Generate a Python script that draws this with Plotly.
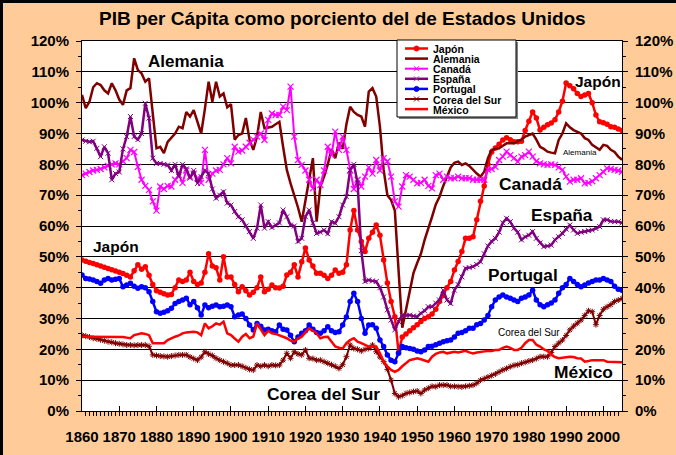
import plotly.graph_objects as go

# ---------------- data ----------------
years = list(range(1860, 2006))

japon = [
    49.0, 48.6, 48.2, 47.8, 47.4, 47.0, 46.6, 46.2, 45.8, 45.4,
    45.0, 44.6, 44.0, 43.5, 45.5, 47.4, 46.0, 46.8, 44.0, 41.0,
    39.0, 38.5, 38.0, 37.6, 37.8, 40.0, 42.5, 42.0, 42.5, 45.0,
    42.0, 41.0, 41.5, 45.0, 51.0, 47.0, 46.5, 42.5, 50.0, 43.5,
    43.5, 41.0, 38.7, 40.3, 39.0, 37.6, 38.5, 40.0, 43.5, 38.7,
    39.5, 40.9, 40.0, 39.9, 40.5, 44.1, 45.0, 47.4, 43.5, 48.4,
    52.9, 49.0, 47.0, 44.7, 44.7, 44.0, 43.0, 44.0, 45.7, 44.7,
    45.0, 47.4, 58.7, 65.0, 58.7, 55.0, 51.7, 56.0, 58.0, 60.3,
    57.0, 49.0, 41.5, 35.5, 30.6, 19.0, 24.0, 25.0, 26.0, 27.0,
    28.0, 29.0, 30.0, 30.6, 31.5, 33.0, 35.5, 37.5, 40.0, 42.0,
    45.7, 48.5, 51.7, 56.0, 56.0, 56.5, 62.0, 68.0, 73.0, 80.0,
    84.0, 85.3, 86.5, 87.9, 88.6, 88.0, 87.3, 87.3, 87.5, 91.0,
    94.0, 97.0, 95.0, 91.1, 92.0, 92.8, 93.4, 94.5, 97.0, 100.5,
    106.4, 105.5, 104.5, 103.0, 102.0, 102.5, 103.0, 100.0, 96.0, 93.8,
    93.5, 93.0, 92.2, 92.0, 91.5, 91.0,
]

alemania = [
    102.5, 98.2, 100.3, 105.0, 106.3, 105.7, 104.0, 103.0, 106.3, 104.0,
    101.0, 99.3, 104.0, 104.7, 114.4, 110.6, 109.5, 106.8, 107.9, 96.0,
    85.2, 85.7, 83.6, 87.3, 88.5, 90.0, 92.2, 91.7, 97.0, 95.5,
    97.6, 94.0, 90.0, 98.0, 106.8, 100.3, 106.8, 102.0, 103.0, 98.5,
    99.5, 88.0, 89.5, 90.0, 95.0, 87.9, 84.7, 89.0, 97.0, 91.7,
    92.0, 92.2, 93.0, 93.8, 85.7, 78.2, 73.8, 70.0, 66.0, 61.4,
    68.4, 75.0, 82.0, 61.4, 72.8, 76.0, 80.0, 85.0, 82.0, 87.0,
    85.0, 93.0, 98.7, 97.0, 96.0, 95.5, 92.2, 103.6, 104.7, 102.0,
    92.2, 78.2, 70.0, 68.4, 65.0, 45.7, 27.0, 32.8, 38.2, 44.7,
    48.0, 51.0, 55.5, 59.0, 63.0, 67.0, 69.5, 73.0, 76.0, 79.0,
    80.5, 80.9, 79.8, 80.3, 79.5, 78.2, 77.0, 76.0, 77.6, 82.0,
    84.7, 85.0, 85.2, 86.0, 86.8, 86.8, 86.8, 87.5, 88.0, 89.0,
    89.5, 90.0, 88.0, 85.7, 85.0, 84.1, 83.8, 83.6, 87.9, 90.0,
    93.3, 92.0, 91.1, 90.5, 90.0, 88.5, 87.9, 86.3, 85.5, 84.7,
    86.3, 86.0, 84.7, 84.0, 82.5, 81.5,
]

canada = [
    76.5, 77.0, 77.5, 78.0, 78.2, 78.5, 79.0, 79.5, 80.0, 80.3,
    80.0, 81.0, 82.0, 84.7, 84.0, 79.2, 75.0, 73.0, 71.7, 68.0,
    65.0, 72.8, 72.0, 73.0, 72.8, 75.0, 76.5, 74.0, 78.0, 76.0,
    77.0, 75.5, 74.0, 84.7, 75.0, 77.0, 78.0, 78.2, 80.0, 82.0,
    80.3, 85.7, 84.1, 84.5, 85.7, 87.0, 88.0, 89.0, 90.0, 87.9,
    94.4, 96.5, 96.0, 96.0, 98.7, 97.6, 105.2, 89.0, 81.4, 79.8,
    78.0, 75.0, 72.2, 75.0, 73.3, 78.0, 85.7, 83.0, 90.6, 84.7,
    89.0, 84.7, 78.0, 72.0, 75.0, 72.8, 76.0, 79.0, 77.0, 81.4,
    78.0, 82.0, 81.0, 76.0, 68.0, 66.3, 72.8, 76.5, 76.0, 75.0,
    73.8, 74.0, 75.0, 73.0, 72.2, 76.5, 77.0, 75.0, 76.0, 75.5,
    75.5, 76.0, 75.5, 75.5, 75.5, 75.0, 75.0, 75.0, 75.0, 78.2,
    78.5, 79.2, 81.4, 82.5, 84.1, 83.0, 82.0, 80.9, 82.5, 83.0,
    84.1, 82.5, 81.0, 80.3, 80.0, 79.8, 80.0, 79.8, 79.0, 78.2,
    76.0, 74.4, 75.0, 75.0, 75.5, 73.8, 74.0, 74.5, 75.5, 76.5,
    77.5, 78.7, 78.5, 78.2, 78.0, 77.6,
]

espana = [
    87.9, 87.5, 87.3, 87.5, 85.2, 82.5, 85.7, 83.6, 75.0, 77.0,
    77.5, 85.0, 89.0, 95.5, 89.0, 88.0, 90.0, 99.8, 95.0, 82.0,
    80.3, 80.3, 80.0, 79.8, 78.0, 80.0, 76.0, 80.0, 78.5, 75.5,
    78.0, 73.8, 76.0, 78.0, 77.0, 72.0, 69.0, 70.0, 71.1, 67.4,
    66.8, 64.7, 63.0, 62.0, 60.0, 58.2, 56.0, 59.3, 66.8, 59.3,
    61.4, 59.5, 60.3, 61.0, 65.2, 63.0, 60.3, 60.0, 55.0, 56.0,
    63.0, 65.2, 61.0, 57.6, 58.0, 58.7, 57.5, 61.4, 60.9, 63.0,
    66.8, 69.5, 78.2, 80.0, 74.0, 52.0, 42.0, 42.5, 42.2, 42.0,
    40.0, 37.0, 32.8, 29.5, 26.3, 29.0, 31.1, 31.0, 31.1, 30.8,
    30.6, 31.7, 32.5, 33.8, 33.8, 35.0, 36.0, 39.2, 36.0, 34.9,
    39.2, 41.0, 43.5, 46.3, 46.5, 46.8, 47.5, 48.4, 51.0, 53.5,
    55.0, 56.0, 58.0, 61.0, 62.5, 61.4, 59.3, 58.0, 55.5, 56.5,
    57.0, 58.2, 56.0, 54.5, 53.3, 53.5, 53.8, 55.5, 56.5, 57.6,
    59.0, 60.3, 58.7, 57.6, 58.0, 58.2, 58.5, 58.7, 59.2, 59.8,
    62.0, 62.0, 61.5, 61.4, 61.4, 61.0,
]

portugal = [
    44.1, 43.0, 42.8, 42.5, 42.0, 41.4, 42.5, 43.0, 42.5, 42.7,
    43.0, 40.3, 40.9, 41.4, 40.5, 39.8, 40.3, 40.0, 38.7, 35.5,
    32.2, 31.7, 32.0, 32.5, 33.3, 34.9, 35.5, 36.0, 36.6, 34.5,
    35.5, 33.5, 31.1, 34.4, 33.5, 34.0, 34.4, 33.8, 34.0, 34.4,
    33.8, 30.6, 31.1, 31.5, 30.0, 27.9, 26.3, 28.4, 27.5, 26.3,
    26.5, 26.0, 25.7, 27.9, 26.5, 26.3, 24.6, 22.5, 24.0, 25.2,
    26.0, 27.9, 26.5, 25.5, 25.2, 26.0, 27.3, 26.0, 25.5, 25.7,
    27.9, 30.5, 35.5, 38.2, 35.5, 30.0, 25.2, 27.9, 28.0, 26.8,
    23.0, 20.9, 18.2, 16.5, 16.0, 18.7, 20.9, 20.5, 20.3, 20.0,
    19.5, 19.2, 19.8, 20.9, 21.0, 21.5, 22.0, 22.5, 22.8, 23.0,
    24.0, 25.2, 25.5, 26.0, 26.8, 26.8, 28.0, 28.4, 29.5, 31.0,
    33.8, 36.0, 37.0, 37.6, 37.0, 36.6, 36.0, 35.5, 36.6, 37.0,
    37.6, 39.2, 36.0, 34.5, 33.8, 34.5, 35.0, 36.0, 38.2, 40.0,
    41.0, 43.0, 42.0, 41.0, 40.3, 40.9, 41.5, 42.0, 42.5, 42.5,
    43.0, 42.5, 42.0, 40.5, 39.5, 39.2,
]

corea = [
    24.6, 24.3, 24.0, 23.6, 23.4, 23.1, 22.8, 22.5, 22.3, 22.0,
    21.8, 21.6, 21.4, 21.4, 21.3, 21.4, 21.4, 21.4, 21.0, 18.2,
    18.0, 17.8, 17.7, 17.6, 17.8, 18.0, 18.2, 18.2, 18.2, 17.5,
    17.0, 16.5, 17.5, 19.2, 18.5, 18.0, 17.1, 16.5, 16.0, 15.5,
    14.9, 14.9, 14.9, 14.5, 14.0, 13.5, 13.3, 14.9, 14.5, 14.9,
    14.5, 14.9, 14.8, 14.9, 16.5, 18.7, 17.1, 19.2, 18.5, 18.2,
    19.8, 17.1, 17.0, 16.5, 16.5, 16.0, 15.5, 15.0, 14.5, 13.8,
    15.0, 17.6, 21.4, 20.3, 20.0, 19.5, 20.0, 20.3, 21.4, 19.2,
    17.5, 16.0, 13.5, 10.0, 5.7, 4.6, 5.0, 5.7, 6.0, 6.3,
    6.5, 5.7, 6.8, 7.4, 8.0, 7.9, 8.4, 8.4, 8.4, 8.0,
    8.0, 7.9, 7.8, 8.0, 8.2, 8.4, 9.0, 10.0, 10.5, 11.0,
    11.5, 12.0, 12.7, 13.3, 13.8, 14.4, 14.8, 15.0, 15.5, 15.8,
    16.2, 16.5, 17.0, 17.6, 17.6, 17.6, 19.0, 20.9, 22.0, 23.0,
    24.5, 26.3, 27.5, 28.5, 29.5, 31.0, 32.5, 32.2, 28.0, 31.0,
    33.0, 33.8, 34.5, 35.5, 36.0, 36.5,
]

mexico = [
    24.1, 24.1, 24.0, 24.0, 24.0, 24.0, 24.1, 24.1, 24.1, 24.1,
    24.1, 24.0, 23.8, 23.6, 24.6, 24.8, 25.2, 25.0, 24.6, 22.0,
    22.0, 22.0, 22.0, 23.0, 23.6, 24.1, 24.5, 25.2, 25.5, 25.7,
    25.7, 25.5, 24.6, 28.4, 26.8, 27.5, 28.4, 28.0, 29.0, 25.2,
    24.6, 23.5, 22.5, 24.1, 25.0, 23.6, 24.1, 28.4, 26.5, 24.6,
    26.0, 25.2, 25.0, 24.6, 24.0, 23.6, 22.8, 22.5, 23.5, 24.1,
    25.5, 26.8, 26.0, 25.2, 23.6, 24.0, 24.1, 22.5, 20.9, 20.5,
    20.3, 22.0, 23.0, 23.6, 22.5, 22.0, 21.4, 20.9, 21.0, 20.9,
    18.7, 16.0, 14.5, 13.3, 12.7, 13.3, 14.5, 15.5, 16.5, 16.8,
    17.1, 16.8, 16.5, 16.0, 17.6, 18.5, 19.0, 19.2, 18.7, 19.0,
    19.2, 19.0, 19.2, 19.5, 19.0, 18.7, 19.0, 19.2, 19.2, 19.5,
    19.5, 19.8, 19.8, 20.5, 20.9, 20.5, 19.8, 19.8, 20.5, 22.0,
    23.0, 23.0, 21.5, 20.9, 20.0, 19.5, 18.2, 17.5, 17.1, 17.3,
    17.6, 17.6, 17.5, 17.1, 17.0, 16.0, 16.2, 16.5, 16.5, 16.5,
    16.5, 16.0, 16.0, 16.0, 16.0, 15.8,
]

series_names = ["Japón", "Alemania", "Canadá", "España", "Portugal", "Corea del Sur", "México"]
title_text = "PIB per Cápita como porciento del de Estados Unidos"
y_ticks = list(range(0, 121, 10))
y_ticklabels = [f"{v}%" for v in y_ticks]
x_ticks = list(range(1860, 2001, 10))

# ---------------- layout helpers ----------------
W, H = 676, 455
L, R, T, B = 82, 54, 41, 44
PW, PH = W - L - R, H - T - B


def px(x):
    return (x - L) / PW


def py(y):
    return (H - B - y) / PH


FONT = "Liberation Sans, Arial, sans-serif"
RED, DRED, MAG, PURP, BLUE = "#FF0000", "#800000", "#FF00FF", "#800080", "#0000FF"
PEACH = "#FFCC99"

styles = {
    "Japón": dict(mode="lines+markers", line=dict(color=RED, width=2.5),
                  marker=dict(symbol="circle", size=5.5, color=RED)),
    "Alemania": dict(mode="lines", line=dict(color=DRED, width=2.5)),
    "Canadá": dict(mode="lines+markers", line=dict(color=MAG, width=2),
                   marker=dict(symbol="x-thin-open", size=6, line=dict(color=MAG, width=1.2))),
    "España": dict(mode="lines+markers", line=dict(color=PURP, width=2.5),
                   marker=dict(symbol="x-thin-open", size=5, line=dict(color="#A040A0", width=1))),
    "Portugal": dict(mode="lines+markers", line=dict(color=BLUE, width=2.5),
                     marker=dict(symbol="circle", size=5.5, color=BLUE)),
    "Corea del Sur": dict(mode="lines+markers", line=dict(color=DRED, width=2),
                          marker=dict(symbol="asterisk-open", size=5, line=dict(color=DRED, width=1))),
    "México": dict(mode="lines", line=dict(color=RED, width=2.5)),
}
values = [japon, alemania, canada, espana, portugal, corea, mexico]

fig = go.Figure()
for name, vals in zip(series_names, values):
    fig.add_trace(go.Scatter(x=years, y=vals, name=name, showlegend=False,
                             hoverinfo="x+y+name", **styles[name]))
fig.data[-1].update(yaxis="y2")

tickfont = dict(family=FONT, size=15, color="black", weight="bold")

fig.update_layout(
    width=W, height=H,
    margin=dict(l=L, r=R, t=T, b=B, pad=0, autoexpand=False),
    paper_bgcolor=PEACH, plot_bgcolor="white",
    showlegend=False,
    xaxis=dict(range=[1860, 2005], tickvals=x_ticks, ticks="inside", ticklen=5,
               tickcolor="black", tickwidth=1, showgrid=False, zeroline=False,
               showline=True, linecolor="black", linewidth=1, mirror=True, automargin=False,
               tickfont=tickfont, ticklabelstandoff=12,
               minor=dict(dtick=1, ticks="outside", ticklen=4, tickcolor="black", tickwidth=1)),
    yaxis=dict(range=[0, 120], tickvals=y_ticks, ticktext=y_ticklabels, ticks="outside", ticklen=5,
               tickcolor="black", showgrid=True, gridcolor="black", gridwidth=1,
               zeroline=False, showline=True, linecolor="black", linewidth=1, automargin=False,
               tickfont=tickfont, ticklabelstandoff=4,
               minor=dict(dtick=5, ticks="outside", ticklen=3, tickcolor="black")),
    yaxis2=dict(range=[0, 120], matches="y", overlaying="y", side="right", tickvals=y_ticks,
                ticktext=y_ticklabels, ticks="outside", ticklen=5, tickcolor="black",
                showgrid=False, zeroline=False, showline=True, linecolor="black", linewidth=1,
                automargin=False, tickfont=tickfont, ticklabelstandoff=4,
                minor=dict(dtick=5, ticks="outside", ticklen=3, tickcolor="black")),
)

ann = []
ann.append(dict(text=title_text, x=px(342.5), y=py(19), xref="paper", yref="paper",
                showarrow=False, xanchor="center", yanchor="middle",
                font=dict(family=FONT, size=19, color="black", weight="bold")))

labels = [
    ("Alemania", 185.5, 61, 17, "bold"),
    ("Japón", 115.5, 246, 15.5, "bold"),
    ("Corea del Sur", 323.5, 394, 17.4, "bold"),
    ("Japón", 597.5, 81.5, 15.5, "bold"),
    ("Alemania", 579.5, 152, 8, "normal"),
    ("Canadá", 530.5, 184, 17.4, "bold"),
    ("España", 562, 215.5, 17.3, "bold"),
    ("Portugal", 522.5, 274.5, 17.2, "bold"),
    ("Corea del Sur", 529, 332.5, 10, "normal"),
    ("México", 583, 371.5, 17.4, "bold"),
]
for txt, lx, ly, fs, wt in labels:
    ann.append(dict(text=txt, x=px(lx), y=py(ly), xref="paper", yref="paper",
                    showarrow=False, xanchor="center", yanchor="middle",
                    font=dict(family=FONT, size=fs, color="black", weight=wt)))

# ---------------- custom legend (key graphics in paper space) ----------------
shapes = []
LX0, LX1, LY0, LY1 = 397, 516, 40, 117
shapes.append(dict(type="rect", xref="paper", yref="paper", x0=px(LX0 + 2), x1=px(LX1 + 2),
                   y0=py(LY0 + 2), y1=py(LY1 + 2), fillcolor="#808080", line=dict(width=0), layer="above"))
shapes.append(dict(type="rect", xref="paper", yref="paper", x0=px(LX0), x1=px(LX1),
                   y0=py(LY0), y1=py(LY1), fillcolor="white", line=dict(color="black", width=1),
                   layer="above"))
key_style = {
    "Japón": (RED, 2.5, "circle", RED),
    "Alemania": (DRED, 2.5, None, None),
    "Canadá": (MAG, 2, "x", MAG),
    "España": (PURP, 2.5, "x", "#A040A0"),
    "Portugal": (BLUE, 2.5, "circle", BLUE),
    "Corea del Sur": (DRED, 2, "x", DRED),
    "México": (RED, 2.5, None, None),
}
for i, name in enumerate(series_names):
    cy = 48.5 + i * 10.1
    col, lw, mk, mcol = key_style[name]
    shapes.append(dict(type="line", xref="paper", yref="paper", x0=px(405), x1=px(428),
                       y0=py(cy), y1=py(cy), line=dict(color=col, width=lw), layer="above"))
    if mk == "circle":
        shapes.append(dict(type="circle", xref="paper", yref="paper", x0=px(414), x1=px(419),
                           y0=py(cy - 2.5), y1=py(cy + 2.5), fillcolor=mcol,
                           line=dict(color=mcol, width=1), layer="above"))
    elif mk == "x":
        for dy in (-1, 1):
            shapes.append(dict(type="line", xref="paper", yref="paper", x0=px(414), x1=px(419),
                               y0=py(cy - 2.5 * dy), y1=py(cy + 2.5 * dy),
                               line=dict(color=mcol, width=1), layer="above"))
    ann.append(dict(text=name, x=px(430.5), y=py(cy + 0.5), xref="paper", yref="paper",
                    showarrow=False, xanchor="left", yanchor="middle",
                    font=dict(family=FONT, size=10.5, color="black", weight="bold")))

# outer black frame (top and left visible in the crop)
shapes.append(dict(type="line", xref="paper", yref="paper", x0=px(0), x1=px(W), y0=py(1.5), y1=py(1.5),
                   line=dict(color="black", width=3), layer="above"))
shapes.append(dict(type="line", xref="paper", yref="paper", x0=px(1.5), x1=px(1.5), y0=py(0), y1=py(H),
                   line=dict(color="black", width=3), layer="above"))

fig.update_layout(annotations=ann, shapes=shapes)
fig.write_html("out.html", config={"displayModeBar": False},
               post_script="document.body.style.margin='0';document.body.style.overflow='hidden';")
